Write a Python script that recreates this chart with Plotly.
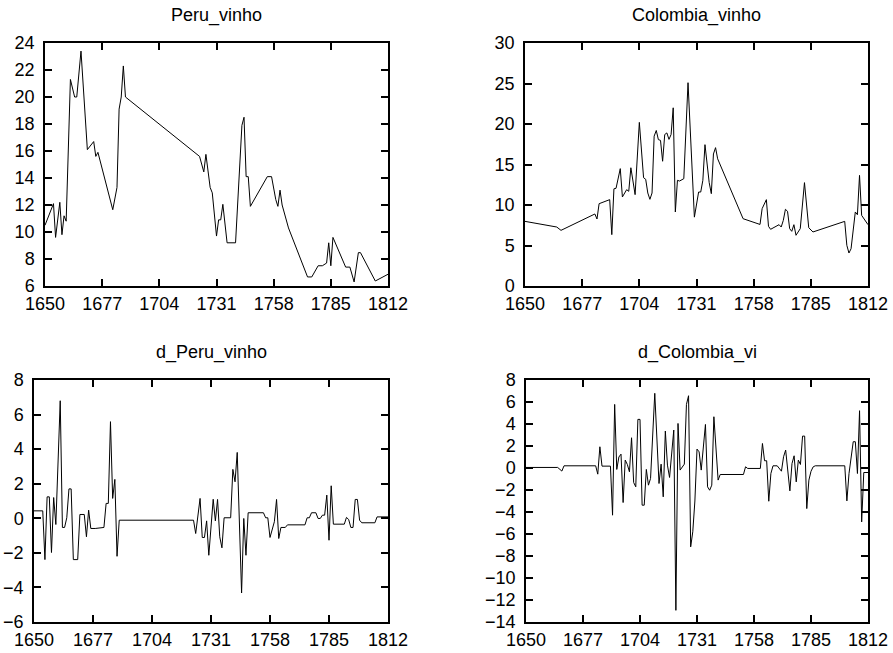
import plotly.graph_objects as go

# ---------------- data ----------------
peru_years = [1650, 1654, 1655, 1657, 1658, 1659, 1660, 1662, 1664, 1665, 1667, 1670, 1673, 1674, 1675,
              1682, 1684, 1685, 1686, 1687, 1688, 1723, 1725, 1726, 1728, 1729, 1731, 1732, 1733, 1734,
              1736, 1740, 1743, 1744, 1745, 1746, 1747, 1755, 1757, 1759, 1760, 1761, 1762, 1765, 1774,
              1776, 1779, 1781, 1783, 1784, 1785, 1786, 1792, 1794, 1796, 1798, 1799, 1806, 1812]
peru_vals = [10.5, 12.1, 9.6, 12.2, 9.8, 11.2, 10.8, 21.3, 20.0, 20.0, 23.4, 16.1, 16.7, 15.6, 15.9,
             11.65, 13.3, 19.1, 20.0, 22.3, 20.0, 15.6, 14.45, 15.75, 13.3, 12.9, 9.7, 10.9, 10.9, 12.05,
             9.2, 9.2, 17.9, 18.5, 14.1, 14.1, 11.9, 14.1, 14.1, 12.4, 11.9, 13.1, 12.0, 10.3, 6.67,
             6.67, 7.5, 7.5, 7.7, 9.2, 7.5, 9.6, 7.4, 7.4, 6.3, 8.47, 8.47, 6.37, 6.87]

col_years = [1650, 1665, 1667, 1683, 1684, 1685, 1690, 1691, 1692, 1693, 1695, 1696, 1698, 1699, 1700,
             1702, 1704, 1706, 1707, 1708, 1709, 1710, 1711, 1712, 1713, 1714, 1715, 1716, 1717, 1718,
             1719, 1720, 1721, 1722, 1723, 1725, 1727, 1730, 1732, 1733, 1734, 1735, 1737, 1738, 1739,
             1740, 1741, 1753, 1761, 1762, 1764, 1765, 1766, 1770, 1771, 1772, 1773, 1774, 1775, 1776,
             1777, 1778, 1780, 1782, 1784, 1786, 1801, 1802, 1803, 1804, 1806, 1807, 1808, 1809, 1812]
col_vals = [7.98, 7.28, 6.87, 8.89, 8.27, 10.16, 10.66, 6.34, 12.0, 12.06, 14.49, 10.99, 11.89, 11.69, 14.6,
            11.28, 20.2, 13.37, 13.17, 11.48, 10.7, 11.48, 18.5, 19.2, 18.07, 17.98, 15.4, 18.7, 18.9, 18.1,
            18.7, 22.0, 9.14, 13.05, 12.96, 13.25, 25.1, 8.5, 11.6, 11.6, 13.05, 17.45, 12.76, 11.4, 16.3,
            17.08, 15.7, 8.31, 7.6, 9.55, 10.66, 7.37, 7.0, 7.57, 7.28, 8.1, 9.47, 9.22, 7.08, 6.75,
            7.57, 6.26, 7.08, 12.76, 7.2, 6.67, 7.98, 5.02, 4.07, 4.6, 9.14, 8.8, 13.66, 8.72, 7.57]

dperu_years = [1650, 1654, 1655, 1656, 1657, 1658, 1659, 1660, 1662, 1663, 1664, 1665, 1666, 1667, 1668,
               1670, 1671, 1673, 1674, 1675, 1676, 1678, 1682, 1683, 1684, 1685, 1686, 1687, 1688, 1689,
               1723, 1724, 1726, 1727, 1728, 1729, 1730, 1732, 1733, 1734, 1735, 1736, 1737, 1740, 1741,
               1742, 1743, 1745, 1746, 1747, 1748, 1755, 1756, 1757, 1758, 1760, 1761, 1762, 1763, 1765,
               1766, 1774, 1775, 1776, 1777, 1779, 1780, 1781, 1782, 1783, 1784, 1785, 1786, 1787, 1792,
               1793, 1794, 1795, 1796, 1797, 1798, 1799, 1800, 1806, 1807, 1812]
dperu_vals = [0.43, 0.43, -2.39, 1.24, 1.24, -1.98, 1.2, -0.36, 6.8, -0.53, -0.53, 0.03, 1.7, 1.7, -2.39,
              -2.39, 0.22, 0.22, -1.07, 0.47, -0.59, -0.59, -0.53, 0.86, 0.86, 5.59, 1.15, 2.25, -2.2, -0.11,
              -0.11, -0.88, 1.15, -1.11, -1.11, -0.15, -2.14, 1.1, -0.15, 1.09, -1.07, -1.71, 0.03, 0.03, 2.83,
              2.11, 3.81, -4.32, -0.01, -2.14, 0.32, 0.32, 0.03, 0.03, -1.11, -0.2, 1.09, -1.17, -0.53, -0.53,
              -0.38, -0.38, 0.03, 0.03, 0.32, 0.32, -0.01, -0.01, 0.18, 0.18, 1.34, -1.27, 1.88, -0.34, -0.34,
              0.05, -0.07, -0.53, -0.53, 1.09, 1.09, -0.11, -0.26, -0.26, 0.08, 0.08]

dcol_years = [1650, 1665, 1667, 1668, 1683, 1684, 1685, 1686, 1690, 1691, 1692, 1693, 1694, 1695, 1696,
              1697, 1698, 1699, 1700, 1701, 1702, 1703, 1704, 1705, 1706, 1707, 1708, 1709, 1711, 1713,
              1714, 1715, 1716, 1717, 1718, 1720, 1721, 1722, 1723, 1725, 1726, 1727, 1728, 1729, 1730,
              1731, 1732, 1733, 1735, 1736, 1737, 1738, 1739, 1741, 1742, 1753, 1754, 1755, 1761, 1762,
              1763, 1764, 1765, 1766, 1767, 1769, 1771, 1772, 1773, 1775, 1776, 1777, 1778, 1779, 1780,
              1781, 1782, 1783, 1784, 1785, 1786, 1787, 1801, 1802, 1803, 1805, 1806, 1807, 1808, 1809,
              1810, 1812]
dcol_vals = [0.05, 0.05, -0.28, 0.2, 0.2, -0.56, 1.93, 0.17, 0.17, -4.29, 5.78, -0.13, 1.0, 1.26, -3.14,
             0.72, 0.32, -0.35, 2.75, -1.32, -1.71, 4.42, 4.42, -3.38, -3.38, -0.13, -1.56, -0.95, 6.79, -1.41,
             0.35, -2.62, 3.36, 0.26, -0.86, 3.45, -12.94, 4.05, -0.19, 0.35, 5.78, 6.57, -7.17, -5.8, -3.0,
             1.72, 1.47, -0.19, 3.96, -1.71, -2.02, -1.56, 4.66, -1.1, -0.59, -0.59, 0.11, -0.04, -0.04, 2.23,
             0.66, 0.66, -3.02, -0.5, 0.2, 0.2, -0.29, 1.02, 1.63, -2.08, 0.41, 1.11, -1.26, 0.72, 0.32,
             2.9, 2.9, -3.69, -1.1, -0.3, 0.1, 0.2, 0.2, -2.99, -0.5, 2.39, 2.39, -0.5, 5.21, -4.9,
             -0.41, -0.41]

titles = ["Peru_vinho", "Colombia_vinho", "d_Peru_vinho", "d_Colombia_vi"]
x_ticks = [1650, 1677, 1704, 1731, 1758, 1785, 1812]
y_ranges = [[6, 24], [0, 30], [-6, 8], [-14, 8]]
y_dticks = [2, 5, 2, 2]

# ---------------- layout ----------------
W, H = 893, 653
# plot boxes in pixels: (left, right, top, bottom)
boxes = [(45, 388, 43, 286), (525, 868, 43, 286), (34, 388, 380, 622), (526, 868, 380, 622)]
title_pos = [(216.5, 15), (696.5, 15), (211, 352), (697, 352)]

FONT = "Liberation Sans, Arial, sans-serif"
FS = 18
fig = go.Figure()
series = [(peru_years, peru_vals), (col_years, col_vals), (dperu_years, dperu_vals), (dcol_years, dcol_vals)]

layout = dict(width=W, height=H, margin=dict(l=0, r=0, t=0, b=0, autoexpand=False),
              paper_bgcolor="white", plot_bgcolor="white", showlegend=False,
              font=dict(family=FONT, size=FS, color="black"))
annotations = []
for i, ((xs, ys), (l, r, t, b)) in enumerate(zip(series, boxes)):
    n = "" if i == 0 else str(i + 1)
    fig.add_trace(go.Scatter(x=xs, y=ys, mode="lines", line=dict(color="black", width=1),
                             xaxis="x" + n, yaxis="y" + n, hoverinfo="skip"))
    axstyle = dict(showgrid=False, zeroline=False, showline=True, linecolor="black", linewidth=1.5,
                   mirror="ticks", ticks="inside", ticklen=7, tickwidth=1.5, tickcolor="black",
                   automargin=False, tickfont=dict(family=FONT, size=FS, color="black"))
    layout["xaxis" + n] = dict(domain=[l / W, r / W], anchor="y" + n, range=[1650, 1812],
                               tickmode="array", tickvals=x_ticks, ticklabelstandoff=1, **axstyle)
    layout["yaxis" + n] = dict(domain=[1 - b / H, 1 - t / H], anchor="x" + n, range=y_ranges[i],
                               dtick=y_dticks[i], tick0=0, ticklabelstandoff=5, **axstyle)
    tx, ty = title_pos[i]
    annotations.append(dict(text=titles[i], x=tx / W, y=1 - ty / H, xref="paper", yref="paper",
                            showarrow=False, xanchor="center", yanchor="middle",
                            font=dict(family=FONT, size=FS, color="black")))
layout["annotations"] = annotations
fig.update_layout(**layout)
fig.write_html("out.html")
